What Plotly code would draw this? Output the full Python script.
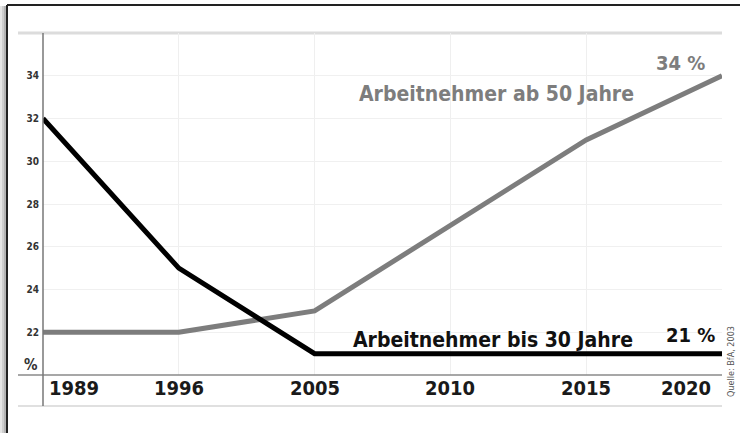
import plotly.graph_objects as go

# Share of employees by age group (in %)
years = ["1989", "1996", "2005", "2010", "2015", "2020"]
bis_30 = [32, 25, 21, 21, 21, 21]
ab_50 = [22, 22, 23, 27, 31, 34]
y_ticks = [22, 24, 26, 28, 30, 32, 34]

W, H = 740, 433
L, R, T, B = 43, 18, 33, 58
PW, PH = W - L - R, H - T - B


def px(x):
    return (x - L) / PW


def py(y):
    return (H - B - y) / PH


FONT = "DejaVu Sans Condensed, Liberation Sans Narrow, DejaVu Sans, sans-serif"
last = len(years) - 1

fig = go.Figure()
fig.add_trace(go.Scatter(x=years, y=ab_50, mode="lines",
                         line=dict(color="#7d7d7d", width=5), cliponaxis=False,
                         hoverinfo="skip"))
fig.add_trace(go.Scatter(x=years, y=bis_30, mode="lines",
                         line=dict(color="#000000", width=5), cliponaxis=False,
                         hoverinfo="skip"))

shapes = []
# left shadow of the frame
for x0, c in [(0, "#e6e6e6"), (2, "#cfcfcf"), (4, "#b4b4b4")]:
    shapes.append(dict(type="rect", xref="paper", yref="paper",
                       x0=px(x0), x1=px(7), y0=py(H), y1=py(6),
                       fillcolor=c, line=dict(width=0), layer="below"))
# frame: top and left edges
shapes.append(dict(type="line", xref="paper", yref="paper",
                   x0=px(7), x1=px(W), y0=py(5), y1=py(5),
                   line=dict(color="#222222", width=2)))
shapes.append(dict(type="line", xref="paper", yref="paper",
                   x0=px(7), x1=px(7), y0=py(H), y1=py(5),
                   line=dict(color="#222222", width=2)))
# top rule, baseline and lower rule
shapes.append(dict(type="line", xref="paper", yref="paper",
                   x0=px(18), x1=1, y0=1, y1=1,
                   line=dict(color="#dcdcdc", width=3), layer="below"))
shapes.append(dict(type="line", xref="paper", yref="paper",
                   x0=px(18), x1=1, y0=0, y1=0,
                   line=dict(color="#8a8a8a", width=1.5)))
shapes.append(dict(type="line", xref="paper", yref="paper",
                   x0=px(18), x1=1, y0=py(406), y1=py(406),
                   line=dict(color="#e0e0e0", width=2)))
# vertical axis
shapes.append(dict(type="line", xref="paper", yref="paper",
                   x0=0, x1=0, y0=py(406), y1=1,
                   line=dict(color="#777777", width=1.5)))

annotations = []
# x-axis year labels (category index positions)
for i, yr in enumerate(years):
    if i == 0:
        anchor, shift = "left", 4
    elif i == last:
        anchor, shift = "right", -9
    else:
        anchor, shift = "center", 0
    annotations.append(dict(x=i, y=py(388), xref="x", yref="paper", text=yr,
                            showarrow=False, xanchor=anchor, yanchor="middle",
                            xshift=shift,
                            font=dict(family=FONT, size=20, color="#1a1a1a", weight="bold")))
# unit
annotations.append(dict(x=px(31), y=py(365), xref="paper", yref="paper", text="%",
                        showarrow=False, xanchor="center", yanchor="middle",
                        font=dict(family=FONT, size=15, color="#333333", weight="bold")))
# series labels
annotations.append(dict(x=px(497), y=py(94), xref="paper", yref="paper",
                        text="Arbeitnehmer ab 50 Jahre", showarrow=False,
                        xanchor="center", yanchor="middle",
                        font=dict(family=FONT, size=21, color="#7d7d7d", weight="bold")))
annotations.append(dict(x=last, y=ab_50[-1], xref="x", yref="y",
                        text=f"{ab_50[-1]} %", showarrow=False,
                        xanchor="right", yanchor="bottom", xshift=-15, yshift=-1,
                        font=dict(family=FONT, size=20, color="#7d7d7d", weight="bold")))
annotations.append(dict(x=px(493), y=py(340), xref="paper", yref="paper",
                        text="Arbeitnehmer bis 30 Jahre", showarrow=False,
                        xanchor="center", yanchor="middle",
                        font=dict(family=FONT, size=21, color="#111111", weight="bold")))
annotations.append(dict(x=last, y=bis_30[-1], xref="x", yref="y",
                        text=f"{bis_30[-1]} %", showarrow=False,
                        xanchor="right", yanchor="bottom", xshift=-5, yshift=5,
                        font=dict(family=FONT, size=20, color="#111111", weight="bold")))
# source
annotations.append(dict(x=px(731), y=py(362), xref="paper", yref="paper",
                        text="Quelle: BfA, 2003", showarrow=False, textangle=-90,
                        xanchor="center", yanchor="middle",
                        font=dict(family=FONT, size=9, color="#555555")))

fig.update_layout(
    width=W, height=H, autosize=False,
    margin=dict(l=L, r=R, t=T, b=B, pad=0),
    paper_bgcolor="white", plot_bgcolor="white",
    showlegend=False,
    shapes=shapes, annotations=annotations,
    xaxis=dict(type="category", range=[0, last], showgrid=True,
               gridcolor="#efefef", gridwidth=1, showticklabels=False,
               zeroline=False, showline=False, ticks="", fixedrange=True),
    yaxis=dict(range=[20, 36], tickvals=y_ticks, showgrid=True,
               gridcolor="#f0f0f0", gridwidth=1, zeroline=False, showline=False,
               ticks="", ticklabelstandoff=3,
               tickfont=dict(family=FONT, size=10, color="#333333", weight="bold"),
               fixedrange=True),
)

fig.write_html("out.html")
